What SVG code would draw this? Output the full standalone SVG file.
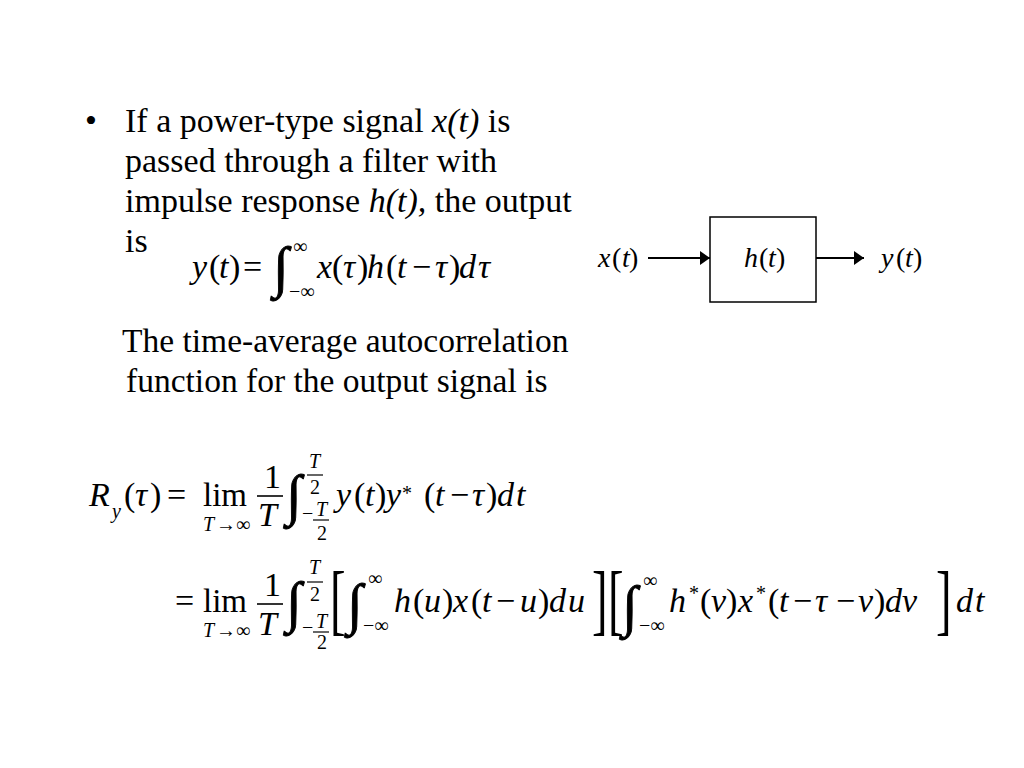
<svg xmlns="http://www.w3.org/2000/svg" width="1024" height="768" viewBox="0 0 1024 768">
<style>
  text { font-family: "Liberation Serif", "Times New Roman", serif; fill: #000; }
  .body { font-size: 34px; }
  .body2 { font-size: 33.5px; }
  .m { font-size: 34px; }
  .lim { font-size: 33px; }
  .d { font-size: 28px; }
  .s { font-size: 20px; }
  .i { font-style: italic; }
  .int { font-size: 56px; stroke: #000; stroke-width: 0.9; }
  .br { font-size: 78px; }
  .fl { stroke: #000; stroke-width: 1.6; }
</style>
<defs>
  <marker id="ah" markerWidth="10" markerHeight="14" refX="10" refY="7" orient="auto" markerUnits="userSpaceOnUse">
    <path d="M0,0 L10,7 L0,14 Z" fill="#000"/>
  </marker>
</defs>
<rect width="1024" height="768" fill="#fff"/>

<g id="text-bullet">
  <text class="body" x="85" y="132">•</text>
  <text class="body" x="125" y="132">If a power-type signal <tspan class="i">x(t)</tspan> is</text>
  <text class="body" x="125" y="172">passed through a filter with</text>
  <text class="body" x="125" y="212">impulse response <tspan class="i">h(t),</tspan> the output</text>
  <text class="body" x="125" y="252">is</text>
  <text class="body2" x="122" y="352">The time-average autocorrelation</text>
  <text class="body2" x="126" y="392">function for the output signal is</text>
</g>

<g id="eq-convolution">
  <text class="m" y="278"><tspan class="i" x="192">y</tspan><tspan x="209">(</tspan><tspan class="i" x="219">t</tspan><tspan x="229">)</tspan><tspan x="243">=</tspan></text>
  <text class="int" x="273" y="286">∫</text>
  <text class="s" x="293" y="253">∞</text>
  <text class="s" x="289" y="298">−∞</text>
  <text class="m" y="278"><tspan class="i" x="317">x</tspan><tspan x="332">(</tspan><tspan class="i" x="343">τ</tspan><tspan x="357">)</tspan><tspan class="i" x="367">h</tspan><tspan x="386">(</tspan><tspan class="i" x="397">t</tspan><tspan x="412">−</tspan><tspan class="i" x="435">τ</tspan><tspan x="449">)</tspan><tspan class="i" x="459">d</tspan><tspan class="i" x="478">τ</tspan></text>
</g>

<g id="eq-autocorr-1">
  <text class="m i" x="89" y="506">R</text>
  <text class="s i" x="112" y="518">y</text>
  <text class="m" y="506"><tspan x="124">(</tspan><tspan class="i" x="135">τ</tspan><tspan x="150">)</tspan><tspan x="167">=</tspan></text>
  <text class="lim" x="203" y="506">lim</text>
  <text class="s" y="531"><tspan class="i" x="203">T</tspan><tspan x="216">→∞</tspan></text>
  <text class="m" x="264" y="488">1</text>
  <line class="fl" x1="257" y1="496" x2="283" y2="496"/>
  <text class="m i" x="258" y="526">T</text>
  <text class="int" x="286" y="514">∫</text>
  <text class="s i" x="309" y="468">T</text>
  <line class="fl" x1="307" y1="475" x2="323" y2="475" style="stroke-width:1.2"/>
  <text class="s" x="310" y="494">2</text>
  <text class="s" x="302" y="520">−</text>
  <text class="s i" x="316" y="516">T</text>
  <line class="fl" x1="313" y1="520" x2="329" y2="520" style="stroke-width:1.2"/>
  <text class="s" x="317" y="540">2</text>
  <text class="m" y="506"><tspan class="i" x="336">y</tspan><tspan x="354">(</tspan><tspan class="i" x="365">t</tspan><tspan x="375">)</tspan><tspan class="i" x="386">y</tspan></text>
  <text class="s" x="402" y="500">*</text>
  <text class="m" y="506"><tspan x="424">(</tspan><tspan class="i" x="435">t</tspan><tspan x="450">−</tspan><tspan class="i" x="472">τ</tspan><tspan x="486">)</tspan><tspan class="i" x="497">d</tspan><tspan class="i" x="516">t</tspan></text>
</g>

<g id="eq-autocorr-2">
  <text class="m" x="175" y="612">=</text>
  <text class="lim" x="203" y="612">lim</text>
  <text class="s" y="637"><tspan class="i" x="203">T</tspan><tspan x="216">→∞</tspan></text>
  <text class="m" x="264" y="596">1</text>
  <line class="fl" x1="257" y1="604" x2="283" y2="604"/>
  <text class="m i" x="258" y="635">T</text>
  <text class="int" x="286" y="621">∫</text>
  <text class="s i" x="309" y="574">T</text>
  <line class="fl" x1="307" y1="582" x2="323" y2="582" style="stroke-width:1.2"/>
  <text class="s" x="310" y="601">2</text>
  <text class="s" x="302" y="634">−</text>
  <text class="s i" x="316" y="628">T</text>
  <line class="fl" x1="313" y1="632" x2="329" y2="632" style="stroke-width:1.2"/>
  <text class="s" x="317" y="649">2</text>
  <text class="br" transform="translate(330,626) scale(0.6,1)">[</text>
  <text class="int" x="347" y="623">∫</text>
  <text class="s" x="368" y="585">∞</text>
  <text class="s" x="363" y="632">−∞</text>
  <text class="m" y="612"><tspan class="i" x="394">h</tspan><tspan x="413">(</tspan><tspan class="i" x="424">u</tspan><tspan x="442">)</tspan><tspan class="i" x="453">x</tspan><tspan x="471">(</tspan><tspan class="i" x="482">t</tspan><tspan x="496">−</tspan><tspan class="i" x="520">u</tspan><tspan x="538">)</tspan><tspan class="i" x="549">d</tspan><tspan class="i" x="568">u</tspan></text>
  <text class="br" transform="translate(592,626) scale(0.6,1)">]</text>
  <text class="br" transform="translate(608,626) scale(0.6,1)">[</text>
  <text class="int" x="622" y="625">∫</text>
  <text class="s" x="643" y="587">∞</text>
  <text class="s" x="639" y="632">−∞</text>
  <text class="m i" x="669" y="612">h</text>
  <text class="s" x="689" y="600">*</text>
  <text class="m" y="612"><tspan x="700">(</tspan><tspan class="i" x="711">v</tspan><tspan x="726">)</tspan><tspan class="i" x="738">x</tspan></text>
  <text class="s" x="756" y="600">*</text>
  <text class="m" y="612"><tspan x="768">(</tspan><tspan class="i" x="779">t</tspan><tspan x="793">−</tspan><tspan class="i" x="815">τ</tspan><tspan x="836">−</tspan><tspan class="i" x="858">v</tspan><tspan x="874">)</tspan><tspan class="i" x="885">d</tspan><tspan class="i" x="902">v</tspan></text>
  <text class="br" transform="translate(936,626) scale(0.6,1)">]</text>
  <text class="m" y="612"><tspan class="i" x="956">d</tspan><tspan class="i" x="975">t</tspan></text>
</g>

<g id="connectors">
  <line x1="648" y1="258" x2="710" y2="258" stroke="#000" stroke-width="2.2" marker-end="url(#ah)"/>
  <line x1="816" y1="258" x2="864" y2="258" stroke="#000" stroke-width="2.2" marker-end="url(#ah)"/>
</g>

<g id="node-input">
  <text class="d" y="267"><tspan class="i" x="598">x</tspan><tspan x="612">(</tspan><tspan class="i" x="622">t</tspan><tspan x="629">)</tspan></text>
</g>
<g id="node-filter">
  <rect x="710" y="217" width="106" height="85" fill="#fff" stroke="#000" stroke-width="1.5"/>
  <text class="d" y="267"><tspan class="i" x="744">h</tspan><tspan x="759">(</tspan><tspan class="i" x="768">t</tspan><tspan x="776">)</tspan></text>
</g>
<g id="node-output">
  <text class="d" y="267"><tspan class="i" x="881">y</tspan><tspan x="896">(</tspan><tspan class="i" x="905">t</tspan><tspan x="913">)</tspan></text>
</g>
</svg>
